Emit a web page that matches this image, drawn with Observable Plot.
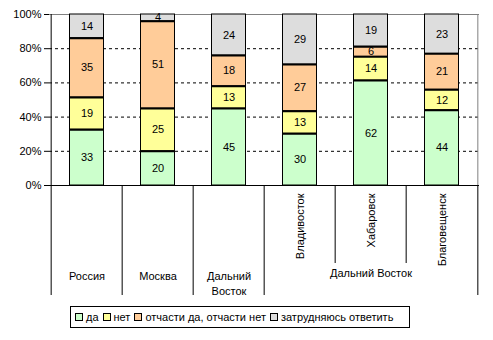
<!DOCTYPE html>
<html><head><meta charset="utf-8">
<script src="https://cdn.jsdelivr.net/npm/d3@7"></script>
<script src="https://cdn.jsdelivr.net/npm/@observablehq/plot@0.6"></script>
<style>
body{margin:0;background:#fff;font-family:"Liberation Sans",Arial,sans-serif;}
#chart{position:relative;width:493px;height:340px;}
#chart svg{position:absolute;left:0;top:0;}
#legend{position:absolute;left:70px;top:306px;width:340px;height:22px;box-sizing:border-box;border:1px solid #000;display:flex;align-items:center;font-size:11px;padding-left:4px;white-space:nowrap;color:#000}
.sw{display:inline-block;width:6px;height:6px;border:1px solid #000;margin-right:3px}
.item{display:flex;align-items:center;margin-right:4px}
</style></head><body><div id="chart"><div id="legend"></div></div>
<script>
const categories = ["Россия","Москва","Дальний Восток","Владивосток","Хабаровск","Благовещенск"];
const series = ["да","нет","отчасти да, отчасти нет","затрудняюсь ответить"];
const yes    = [33,20,45,30,62,44];
const no     = [19,25,13,13,14,12];
const partly = [35,51,18,27,6,21];
const unsure = [14,4,24,29,19,23];
const colors = ["#CCFFCC","#FFFF99","#FFCC99","#DDDDDD"];
const yTicks = [0,0.2,0.4,0.6,0.8,1];
const gridTicks = [0.2,0.4,0.6,0.8];
// category axis labels
const flatLabels = ["Россия","Москва","Дальний\nВосток"];      // first three categories
const rotatedLabels = ["Владивосток","Хабаровск","Благовещенск"]; // last three categories
const groupLabel = "Дальний Восток";

const valuesBySeries = [yes, no, partly, unsure];
const data = [];
categories.forEach((c, i) => series.forEach((s, j) => data.push({cat: c, series: s, value: valuesBySeries[j][i]})));

const W = 493, H = 300, mL = 49, mR = 14, mT = 14, mB = 5;
const bw = (W - mL - mR) / categories.length;
const yMin = -110 / 171; // extend y below 0 for the category label area
const inset = 18.5;
const lastSeries = series[series.length - 1];
const flatCats = categories.slice(0, 3);
const rotCats = categories.slice(3);
const innerSep = rotCats.slice(1);
const rowY = -84 / 171, sepInnerY = -78 / 171, rotY = -8 / 171;

const stackOpts = {x: "cat", y: "value", z: "series", offset: "normalize"};

const plot = Plot.plot({
  width: W, height: H,
  marginLeft: mL, marginRight: mR, marginTop: mT, marginBottom: mB,
  style: {fontFamily: "Liberation Sans, Arial, sans-serif", fontSize: "11px", background: "white", color: "black"},
  x: {domain: categories, padding: 0, axis: null},
  y: {domain: [yMin, 1], ticks: yTicks, tickFormat: d3.format(".0%"), tickSize: 5, tickPadding: 3, label: null},
  color: {domain: series, range: colors},
  opacity: {domain: [0, 1], range: [0, 1]},
  marks: [
    Plot.ruleY(gridTicks, {stroke: "black", strokeDasharray: "3,3"}),
    Plot.ruleY([1], {stroke: "#808080"}),
    Plot.ruleX([categories[categories.length - 1]], {x: d => d, dx: bw / 2, y1: 0, y2: 1, stroke: "#808080"}),
    Plot.barY(data, Plot.stackY({...stackOpts, fill: "series", stroke: "black", strokeWidth: 1, insetLeft: inset, insetRight: inset})),
    Plot.tickY(data, Plot.stackY2({...stackOpts, stroke: "black", strokeWidth: 2, strokeOpacity: d => d.series === lastSeries ? 0 : 1, insetLeft: inset, insetRight: inset})),
    Plot.text(data, Plot.stackY({...stackOpts, text: "value", fill: "black", fontSize: 11})),
    Plot.ruleY([0], {stroke: "black"}),
    // category separators
    Plot.ruleX([categories[0]], {x: d => d, dx: -bw / 2, y1: yMin, y2: 1, stroke: "black"}),
    Plot.ruleX(categories.slice(1), {x: d => d, dx: -bw / 2, y1: d => innerSep.includes(d) ? sepInnerY : yMin, y2: 0, stroke: "black"}),
    Plot.ruleX([categories[categories.length - 1]], {x: d => d, dx: bw / 2, y1: yMin, y2: 0, stroke: "black"}),
    // labels
    Plot.text(flatCats, {x: d => d, y: rowY, text: (d, i) => flatLabels[i], lineAnchor: "top", lineHeight: 1.33, fontSize: 11, fill: "black"}),
    Plot.text(rotCats, {x: d => d, y: rotY, text: (d, i) => rotatedLabels[i], rotate: -90, textAnchor: "end", fontSize: 11, fill: "black"}),
    Plot.text([rotCats[1]], {x: d => d, y: rowY, text: () => groupLabel, lineAnchor: "top", fontSize: 11, fill: "black"})
  ]
});
document.getElementById("chart").appendChild(plot);

const legend = document.getElementById("legend");
series.forEach((s, i) => {
  const it = document.createElement("span");
  it.className = "item";
  const sw = document.createElement("span");
  sw.className = "sw";
  sw.style.background = colors[i];
  it.appendChild(sw);
  it.appendChild(document.createTextNode(s));
  legend.appendChild(it);
});
</script></body></html>
